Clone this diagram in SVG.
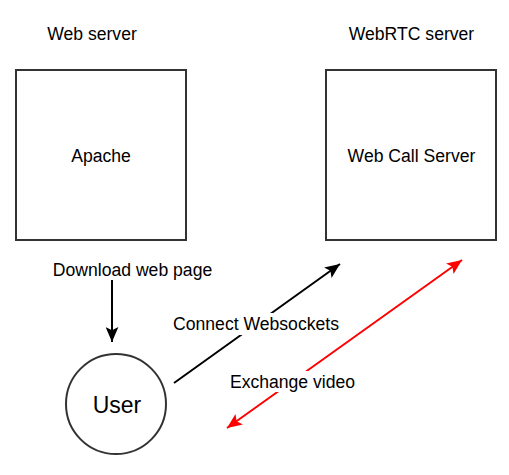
<svg xmlns="http://www.w3.org/2000/svg" width="509" height="475" viewBox="0 0 509 475">
<style>
text{font-family:"Liberation Sans",Arial,sans-serif;font-size:17.6px;fill:#000;text-anchor:middle}
.box{fill:#fff;stroke:#333;stroke-width:2}
.edge{fill:none;stroke-width:2}
.lbl{fill:#fff;stroke:none}
</style>
<defs>
<marker id="ab" markerUnits="userSpaceOnUse" markerWidth="15" markerHeight="13" viewBox="0 0 14 12" refX="14" refY="6" orient="auto-start-reverse">
<path d="M0,0 L14,6 L0,12 L3,6 z" fill="#000"/>
</marker>
<marker id="ar" markerUnits="userSpaceOnUse" markerWidth="15" markerHeight="13" viewBox="0 0 14 12" refX="14" refY="6" orient="auto-start-reverse">
<path d="M0,0 L14,6 L0,12 L3,6 z" fill="#f00"/>
</marker>
</defs>
<g id="label-web-server"><text x="92" y="40">Web server</text></g>
<g id="label-webrtc-server"><text x="411.5" y="40">WebRTC server</text></g>
<g id="apache"><rect class="box" x="16" y="70" width="170" height="170"/><text x="101" y="161.5">Apache</text></g>
<g id="wcs"><rect class="box" x="326" y="70" width="170" height="170"/><text x="411.5" y="161.5">Web Call Server</text></g>
<g id="user"><circle class="box" cx="116" cy="404" r="50"/><text x="117" y="412.5" style="font-size:23px">User</text></g>
<g id="connectors">
<line class="edge" x1="112" y1="280" x2="112" y2="342" stroke="#000" marker-end="url(#ab)"/>
<text x="132.5" y="276">Download web page</text>
<line class="edge" x1="174" y1="383" x2="340" y2="264" stroke="#000" marker-end="url(#ab)"/>
<rect class="lbl" x="171" y="313" width="170" height="22"/>
<text x="256" y="329.5">Connect Websockets</text>
<line class="edge" x1="227" y1="428" x2="462" y2="260" stroke="#f00" marker-start="url(#ar)" marker-end="url(#ar)"/>
<rect class="lbl" x="228" y="371" width="129" height="21"/>
<text x="292.5" y="387.5">Exchange video</text>
</g>
</svg>
